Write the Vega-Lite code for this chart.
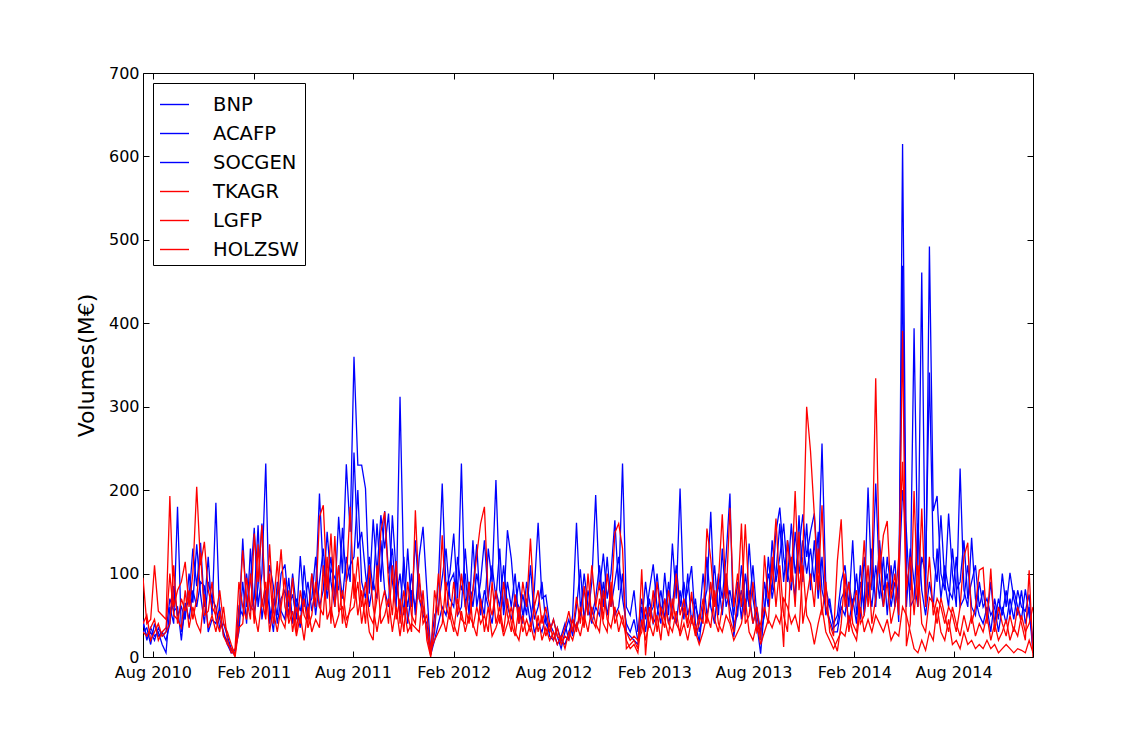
{
  "$schema": "https://vega.github.io/schema/vega-lite/v6.json",
  "width": 890,
  "height": 584,
  "autosize": {"type": "none"},
  "padding": {"left": 143, "top": 73, "right": 114, "bottom": 74},
  "background": "white",
  "config": {
    "view": {"stroke": "black", "strokeWidth": 1},
    "font": "DejaVu Sans",
    "axis": {"grid": false, "domain": false, "labelColor": "black", "tickColor": "black", "labelFontSize": 16, "labelFont": "DejaVu Sans", "titleFont": "DejaVu Sans", "titleColor": "black"}
  },
  "data": {
    "values": [
      {"d":"2010-07-14","BNP":45,"ACAFP":30,"SOCGEN":40,"TKAGR":95,"LGFP":40,"HOLZSW":30},
      {"d":"2010-07-21","BNP":20,"ACAFP":35,"SOCGEN":25,"TKAGR":40,"LGFP":50,"HOLZSW":25},
      {"d":"2010-07-28","BNP":35,"ACAFP":15,"SOCGEN":30,"TKAGR":45,"LGFP":20,"HOLZSW":35},
      {"d":"2010-08-04","BNP":25,"ACAFP":40,"SOCGEN":20,"TKAGR":110,"LGFP":30,"HOLZSW":45},
      {"d":"2010-08-11","BNP":30,"ACAFP":25,"SOCGEN":35,"TKAGR":55,"LGFP":40,"HOLZSW":20},
      {"d":"2010-08-18","BNP":15,"ACAFP":30,"SOCGEN":25,"TKAGR":50,"LGFP":25,"HOLZSW":30},
      {"d":"2010-08-25","BNP":5,"ACAFP":20,"SOCGEN":30,"TKAGR":45,"LGFP":30,"HOLZSW":35},
      {"d":"2010-09-01","BNP":60,"ACAFP":40,"SOCGEN":70,"TKAGR":193,"LGFP":40,"HOLZSW":100},
      {"d":"2010-09-08","BNP":40,"ACAFP":85,"SOCGEN":55,"TKAGR":60,"LGFP":110,"HOLZSW":50},
      {"d":"2010-09-15","BNP":180,"ACAFP":50,"SOCGEN":60,"TKAGR":80,"LGFP":40,"HOLZSW":45},
      {"d":"2010-09-22","BNP":30,"ACAFP":60,"SOCGEN":20,"TKAGR":90,"LGFP":70,"HOLZSW":35},
      {"d":"2010-09-29","BNP":55,"ACAFP":45,"SOCGEN":65,"TKAGR":114,"LGFP":55,"HOLZSW":80},
      {"d":"2010-10-06","BNP":70,"ACAFP":100,"SOCGEN":45,"TKAGR":60,"LGFP":80,"HOLZSW":35},
      {"d":"2010-10-13","BNP":130,"ACAFP":65,"SOCGEN":80,"TKAGR":100,"LGFP":45,"HOLZSW":60},
      {"d":"2010-10-20","BNP":85,"ACAFP":135,"SOCGEN":60,"TKAGR":204,"LGFP":70,"HOLZSW":40},
      {"d":"2010-10-27","BNP":137,"ACAFP":75,"SOCGEN":90,"TKAGR":110,"LGFP":125,"HOLZSW":30},
      {"d":"2010-11-03","BNP":60,"ACAFP":40,"SOCGEN":85,"TKAGR":138,"LGFP":50,"HOLZSW":75},
      {"d":"2010-11-10","BNP":120,"ACAFP":90,"SOCGEN":30,"TKAGR":80,"LGFP":55,"HOLZSW":35},
      {"d":"2010-11-17","BNP":50,"ACAFP":70,"SOCGEN":45,"TKAGR":60,"LGFP":90,"HOLZSW":50},
      {"d":"2010-11-24","BNP":185,"ACAFP":60,"SOCGEN":40,"TKAGR":50,"LGFP":45,"HOLZSW":30},
      {"d":"2010-12-01","BNP":45,"ACAFP":35,"SOCGEN":60,"TKAGR":80,"LGFP":30,"HOLZSW":55},
      {"d":"2010-12-08","BNP":30,"ACAFP":40,"SOCGEN":25,"TKAGR":40,"LGFP":60,"HOLZSW":25},
      {"d":"2010-12-15","BNP":15,"ACAFP":25,"SOCGEN":20,"TKAGR":30,"LGFP":20,"HOLZSW":15},
      {"d":"2010-12-22","BNP":5,"ACAFP":10,"SOCGEN":8,"TKAGR":15,"LGFP":5,"HOLZSW":10},
      {"d":"2010-12-29","BNP":5,"ACAFP":3,"SOCGEN":8,"TKAGR":2,"LGFP":10,"HOLZSW":0},
      {"d":"2011-01-05","BNP":40,"ACAFP":60,"SOCGEN":30,"TKAGR":50,"LGFP":90,"HOLZSW":35},
      {"d":"2011-01-12","BNP":142,"ACAFP":50,"SOCGEN":90,"TKAGR":128,"LGFP":60,"HOLZSW":40},
      {"d":"2011-01-19","BNP":60,"ACAFP":100,"SOCGEN":40,"TKAGR":70,"LGFP":45,"HOLZSW":95},
      {"d":"2011-01-26","BNP":90,"ACAFP":55,"SOCGEN":130,"TKAGR":45,"LGFP":100,"HOLZSW":60},
      {"d":"2011-02-02","BNP":155,"ACAFP":70,"SOCGEN":50,"TKAGR":148,"LGFP":40,"HOLZSW":55},
      {"d":"2011-02-09","BNP":60,"ACAFP":158,"SOCGEN":85,"TKAGR":90,"LGFP":135,"HOLZSW":30},
      {"d":"2011-02-16","BNP":100,"ACAFP":45,"SOCGEN":160,"TKAGR":158,"LGFP":60,"HOLZSW":70},
      {"d":"2011-02-23","BNP":232,"ACAFP":80,"SOCGEN":55,"TKAGR":50,"LGFP":90,"HOLZSW":45},
      {"d":"2011-03-02","BNP":40,"ACAFP":60,"SOCGEN":110,"TKAGR":100,"LGFP":30,"HOLZSW":135},
      {"d":"2011-03-09","BNP":70,"ACAFP":30,"SOCGEN":85,"TKAGR":40,"LGFP":60,"HOLZSW":55},
      {"d":"2011-03-16","BNP":50,"ACAFP":90,"SOCGEN":40,"TKAGR":75,"LGFP":115,"HOLZSW":30},
      {"d":"2011-03-23","BNP":100,"ACAFP":55,"SOCGEN":70,"TKAGR":129,"LGFP":45,"HOLZSW":60},
      {"d":"2011-03-30","BNP":111,"ACAFP":45,"SOCGEN":80,"TKAGR":60,"LGFP":35,"HOLZSW":95},
      {"d":"2011-04-06","BNP":60,"ACAFP":95,"SOCGEN":50,"TKAGR":45,"LGFP":80,"HOLZSW":40},
      {"d":"2011-04-13","BNP":75,"ACAFP":40,"SOCGEN":100,"TKAGR":95,"LGFP":30,"HOLZSW":55},
      {"d":"2011-04-20","BNP":45,"ACAFP":70,"SOCGEN":60,"TKAGR":30,"LGFP":60,"HOLZSW":25},
      {"d":"2011-04-27","BNP":121,"ACAFP":55,"SOCGEN":35,"TKAGR":80,"LGFP":40,"HOLZSW":50},
      {"d":"2011-05-04","BNP":60,"ACAFP":80,"SOCGEN":110,"TKAGR":50,"LGFP":70,"HOLZSW":20},
      {"d":"2011-05-11","BNP":90,"ACAFP":45,"SOCGEN":60,"TKAGR":40,"LGFP":35,"HOLZSW":60},
      {"d":"2011-05-18","BNP":55,"ACAFP":100,"SOCGEN":70,"TKAGR":100,"LGFP":50,"HOLZSW":30},
      {"d":"2011-05-25","BNP":80,"ACAFP":50,"SOCGEN":120,"TKAGR":60,"LGFP":90,"HOLZSW":45},
      {"d":"2011-06-01","BNP":196,"ACAFP":90,"SOCGEN":60,"TKAGR":168,"LGFP":60,"HOLZSW":35},
      {"d":"2011-06-08","BNP":100,"ACAFP":130,"SOCGEN":80,"TKAGR":182,"LGFP":50,"HOLZSW":110},
      {"d":"2011-06-15","BNP":90,"ACAFP":70,"SOCGEN":150,"TKAGR":80,"LGFP":120,"HOLZSW":45},
      {"d":"2011-06-22","BNP":120,"ACAFP":105,"SOCGEN":90,"TKAGR":148,"LGFP":40,"HOLZSW":60},
      {"d":"2011-06-29","BNP":70,"ACAFP":95,"SOCGEN":60,"TKAGR":60,"LGFP":145,"HOLZSW":35},
      {"d":"2011-07-06","BNP":168,"ACAFP":80,"SOCGEN":110,"TKAGR":110,"LGFP":55,"HOLZSW":50},
      {"d":"2011-07-13","BNP":100,"ACAFP":155,"SOCGEN":70,"TKAGR":40,"LGFP":60,"HOLZSW":80},
      {"d":"2011-07-20","BNP":231,"ACAFP":90,"SOCGEN":120,"TKAGR":90,"LGFP":35,"HOLZSW":45},
      {"d":"2011-07-27","BNP":150,"ACAFP":110,"SOCGEN":90,"TKAGR":180,"LGFP":60,"HOLZSW":55},
      {"d":"2011-08-03","BNP":360,"ACAFP":120,"SOCGEN":245,"TKAGR":70,"LGFP":100,"HOLZSW":60},
      {"d":"2011-08-10","BNP":230,"ACAFP":200,"SOCGEN":130,"TKAGR":120,"LGFP":50,"HOLZSW":90},
      {"d":"2011-08-17","BNP":230,"ACAFP":90,"SOCGEN":150,"TKAGR":60,"LGFP":80,"HOLZSW":40},
      {"d":"2011-08-24","BNP":202,"ACAFP":70,"SOCGEN":100,"TKAGR":90,"LGFP":40,"HOLZSW":70},
      {"d":"2011-08-31","BNP":76,"ACAFP":120,"SOCGEN":60,"TKAGR":50,"LGFP":110,"HOLZSW":30},
      {"d":"2011-09-07","BNP":165,"ACAFP":80,"SOCGEN":90,"TKAGR":40,"LGFP":60,"HOLZSW":20},
      {"d":"2011-09-14","BNP":100,"ACAFP":160,"SOCGEN":70,"TKAGR":70,"LGFP":30,"HOLZSW":110},
      {"d":"2011-09-21","BNP":170,"ACAFP":90,"SOCGEN":140,"TKAGR":150,"LGFP":60,"HOLZSW":40},
      {"d":"2011-09-28","BNP":130,"ACAFP":175,"SOCGEN":80,"TKAGR":174,"LGFP":80,"HOLZSW":50},
      {"d":"2011-10-05","BNP":172,"ACAFP":100,"SOCGEN":60,"TKAGR":90,"LGFP":40,"HOLZSW":70},
      {"d":"2011-10-12","BNP":90,"ACAFP":130,"SOCGEN":170,"TKAGR":50,"LGFP":110,"HOLZSW":30},
      {"d":"2011-10-19","BNP":60,"ACAFP":70,"SOCGEN":100,"TKAGR":115,"LGFP":45,"HOLZSW":60},
      {"d":"2011-10-26","BNP":312,"ACAFP":100,"SOCGEN":50,"TKAGR":40,"LGFP":70,"HOLZSW":25},
      {"d":"2011-11-02","BNP":90,"ACAFP":50,"SOCGEN":120,"TKAGR":80,"LGFP":30,"HOLZSW":60},
      {"d":"2011-11-09","BNP":60,"ACAFP":130,"SOCGEN":40,"TKAGR":50,"LGFP":90,"HOLZSW":30},
      {"d":"2011-11-16","BNP":100,"ACAFP":60,"SOCGEN":80,"TKAGR":30,"LGFP":50,"HOLZSW":40},
      {"d":"2011-11-23","BNP":50,"ACAFP":140,"SOCGEN":60,"TKAGR":176,"LGFP":40,"HOLZSW":35},
      {"d":"2011-11-30","BNP":120,"ACAFP":70,"SOCGEN":90,"TKAGR":70,"LGFP":100,"HOLZSW":30},
      {"d":"2011-12-07","BNP":156,"ACAFP":50,"SOCGEN":60,"TKAGR":60,"LGFP":40,"HOLZSW":80},
      {"d":"2011-12-14","BNP":80,"ACAFP":40,"SOCGEN":30,"TKAGR":30,"LGFP":50,"HOLZSW":20},
      {"d":"2011-12-21","BNP":5,"ACAFP":10,"SOCGEN":3,"TKAGR":2,"LGFP":8,"HOLZSW":0},
      {"d":"2011-12-28","BNP":30,"ACAFP":50,"SOCGEN":20,"TKAGR":80,"LGFP":20,"HOLZSW":35},
      {"d":"2012-01-04","BNP":90,"ACAFP":60,"SOCGEN":40,"TKAGR":50,"LGFP":30,"HOLZSW":100},
      {"d":"2012-01-11","BNP":208,"ACAFP":95,"SOCGEN":60,"TKAGR":146,"LGFP":40,"HOLZSW":50},
      {"d":"2012-01-18","BNP":80,"ACAFP":130,"SOCGEN":50,"TKAGR":60,"LGFP":90,"HOLZSW":30},
      {"d":"2012-01-25","BNP":100,"ACAFP":70,"SOCGEN":90,"TKAGR":45,"LGFP":50,"HOLZSW":60},
      {"d":"2012-02-01","BNP":148,"ACAFP":60,"SOCGEN":100,"TKAGR":90,"LGFP":30,"HOLZSW":40},
      {"d":"2012-02-08","BNP":70,"ACAFP":120,"SOCGEN":50,"TKAGR":50,"LGFP":70,"HOLZSW":25},
      {"d":"2012-02-15","BNP":232,"ACAFP":80,"SOCGEN":60,"TKAGR":100,"LGFP":45,"HOLZSW":55},
      {"d":"2012-02-22","BNP":60,"ACAFP":100,"SOCGEN":130,"TKAGR":60,"LGFP":40,"HOLZSW":30},
      {"d":"2012-02-29","BNP":90,"ACAFP":50,"SOCGEN":70,"TKAGR":40,"LGFP":90,"HOLZSW":50},
      {"d":"2012-03-07","BNP":60,"ACAFP":140,"SOCGEN":80,"TKAGR":80,"LGFP":35,"HOLZSW":40},
      {"d":"2012-03-14","BNP":100,"ACAFP":60,"SOCGEN":135,"TKAGR":122,"LGFP":60,"HOLZSW":25},
      {"d":"2012-03-21","BNP":70,"ACAFP":90,"SOCGEN":50,"TKAGR":160,"LGFP":40,"HOLZSW":70},
      {"d":"2012-03-28","BNP":50,"ACAFP":140,"SOCGEN":80,"TKAGR":180,"LGFP":50,"HOLZSW":30},
      {"d":"2012-04-04","BNP":130,"ACAFP":70,"SOCGEN":60,"TKAGR":70,"LGFP":30,"HOLZSW":60},
      {"d":"2012-04-11","BNP":90,"ACAFP":110,"SOCGEN":40,"TKAGR":50,"LGFP":90,"HOLZSW":25},
      {"d":"2012-04-18","BNP":212,"ACAFP":70,"SOCGEN":80,"TKAGR":80,"LGFP":40,"HOLZSW":35},
      {"d":"2012-04-25","BNP":80,"ACAFP":130,"SOCGEN":60,"TKAGR":40,"LGFP":60,"HOLZSW":50},
      {"d":"2012-05-02","BNP":60,"ACAFP":50,"SOCGEN":110,"TKAGR":90,"LGFP":30,"HOLZSW":25},
      {"d":"2012-05-09","BNP":152,"ACAFP":90,"SOCGEN":60,"TKAGR":50,"LGFP":70,"HOLZSW":40},
      {"d":"2012-05-16","BNP":118,"ACAFP":60,"SOCGEN":45,"TKAGR":30,"LGFP":40,"HOLZSW":60},
      {"d":"2012-05-23","BNP":60,"ACAFP":100,"SOCGEN":70,"TKAGR":75,"LGFP":25,"HOLZSW":30},
      {"d":"2012-05-30","BNP":90,"ACAFP":40,"SOCGEN":60,"TKAGR":40,"LGFP":60,"HOLZSW":20},
      {"d":"2012-06-06","BNP":50,"ACAFP":75,"SOCGEN":40,"TKAGR":90,"LGFP":30,"HOLZSW":50},
      {"d":"2012-06-13","BNP":70,"ACAFP":50,"SOCGEN":90,"TKAGR":60,"LGFP":45,"HOLZSW":25},
      {"d":"2012-06-20","BNP":40,"ACAFP":110,"SOCGEN":60,"TKAGR":142,"LGFP":30,"HOLZSW":40},
      {"d":"2012-06-27","BNP":80,"ACAFP":45,"SOCGEN":30,"TKAGR":60,"LGFP":60,"HOLZSW":20},
      {"d":"2012-07-04","BNP":161,"ACAFP":60,"SOCGEN":40,"TKAGR":80,"LGFP":30,"HOLZSW":50},
      {"d":"2012-07-11","BNP":70,"ACAFP":90,"SOCGEN":30,"TKAGR":40,"LGFP":50,"HOLZSW":20},
      {"d":"2012-07-18","BNP":74,"ACAFP":40,"SOCGEN":50,"TKAGR":60,"LGFP":25,"HOLZSW":35},
      {"d":"2012-07-25","BNP":40,"ACAFP":30,"SOCGEN":25,"TKAGR":30,"LGFP":40,"HOLZSW":20},
      {"d":"2012-08-01","BNP":30,"ACAFP":45,"SOCGEN":20,"TKAGR":45,"LGFP":20,"HOLZSW":30},
      {"d":"2012-08-08","BNP":15,"ACAFP":25,"SOCGEN":35,"TKAGR":25,"LGFP":35,"HOLZSW":15},
      {"d":"2012-08-15","BNP":25,"ACAFP":10,"SOCGEN":20,"TKAGR":20,"LGFP":15,"HOLZSW":25},
      {"d":"2012-08-22","BNP":40,"ACAFP":30,"SOCGEN":15,"TKAGR":35,"LGFP":25,"HOLZSW":10},
      {"d":"2012-08-29","BNP":20,"ACAFP":45,"SOCGEN":30,"TKAGR":55,"LGFP":20,"HOLZSW":30},
      {"d":"2012-09-05","BNP":50,"ACAFP":25,"SOCGEN":45,"TKAGR":30,"LGFP":45,"HOLZSW":20},
      {"d":"2012-09-12","BNP":161,"ACAFP":60,"SOCGEN":35,"TKAGR":72,"LGFP":30,"HOLZSW":40},
      {"d":"2012-09-19","BNP":60,"ACAFP":105,"SOCGEN":50,"TKAGR":40,"LGFP":60,"HOLZSW":25},
      {"d":"2012-09-26","BNP":80,"ACAFP":45,"SOCGEN":100,"TKAGR":85,"LGFP":35,"HOLZSW":50},
      {"d":"2012-10-03","BNP":50,"ACAFP":80,"SOCGEN":60,"TKAGR":50,"LGFP":100,"HOLZSW":30},
      {"d":"2012-10-10","BNP":90,"ACAFP":50,"SOCGEN":40,"TKAGR":110,"LGFP":45,"HOLZSW":60},
      {"d":"2012-10-17","BNP":194,"ACAFP":70,"SOCGEN":60,"TKAGR":60,"LGFP":35,"HOLZSW":40},
      {"d":"2012-10-24","BNP":80,"ACAFP":110,"SOCGEN":50,"TKAGR":90,"LGFP":70,"HOLZSW":30},
      {"d":"2012-10-31","BNP":124,"ACAFP":60,"SOCGEN":90,"TKAGR":45,"LGFP":40,"HOLZSW":80},
      {"d":"2012-11-07","BNP":70,"ACAFP":120,"SOCGEN":50,"TKAGR":100,"LGFP":30,"HOLZSW":45},
      {"d":"2012-11-14","BNP":100,"ACAFP":60,"SOCGEN":80,"TKAGR":60,"LGFP":90,"HOLZSW":35},
      {"d":"2012-11-21","BNP":164,"ACAFP":90,"SOCGEN":50,"TKAGR":149,"LGFP":40,"HOLZSW":60},
      {"d":"2012-11-28","BNP":80,"ACAFP":120,"SOCGEN":60,"TKAGR":160,"LGFP":55,"HOLZSW":30},
      {"d":"2012-12-05","BNP":232,"ACAFP":70,"SOCGEN":100,"TKAGR":130,"LGFP":40,"HOLZSW":50},
      {"d":"2012-12-12","BNP":60,"ACAFP":40,"SOCGEN":30,"TKAGR":10,"LGFP":30,"HOLZSW":20},
      {"d":"2012-12-19","BNP":50,"ACAFP":30,"SOCGEN":25,"TKAGR":15,"LGFP":20,"HOLZSW":10},
      {"d":"2012-12-26","BNP":80,"ACAFP":45,"SOCGEN":20,"TKAGR":20,"LGFP":25,"HOLZSW":15},
      {"d":"2013-01-02","BNP":30,"ACAFP":20,"SOCGEN":15,"TKAGR":10,"LGFP":20,"HOLZSW":5},
      {"d":"2013-01-09","BNP":70,"ACAFP":40,"SOCGEN":60,"TKAGR":105,"LGFP":30,"HOLZSW":45},
      {"d":"2013-01-16","BNP":45,"ACAFP":90,"SOCGEN":30,"TKAGR":2,"LGFP":60,"HOLZSW":20},
      {"d":"2013-01-23","BNP":80,"ACAFP":50,"SOCGEN":70,"TKAGR":60,"LGFP":35,"HOLZSW":40},
      {"d":"2013-01-30","BNP":111,"ACAFP":60,"SOCGEN":40,"TKAGR":40,"LGFP":80,"HOLZSW":25},
      {"d":"2013-02-06","BNP":60,"ACAFP":100,"SOCGEN":50,"TKAGR":90,"LGFP":30,"HOLZSW":50},
      {"d":"2013-02-13","BNP":40,"ACAFP":55,"SOCGEN":80,"TKAGR":50,"LGFP":60,"HOLZSW":20},
      {"d":"2013-02-20","BNP":101,"ACAFP":70,"SOCGEN":45,"TKAGR":35,"LGFP":45,"HOLZSW":70},
      {"d":"2013-02-27","BNP":50,"ACAFP":40,"SOCGEN":90,"TKAGR":80,"LGFP":25,"HOLZSW":40},
      {"d":"2013-03-06","BNP":136,"ACAFP":60,"SOCGEN":50,"TKAGR":45,"LGFP":70,"HOLZSW":30},
      {"d":"2013-03-13","BNP":70,"ACAFP":110,"SOCGEN":40,"TKAGR":100,"LGFP":40,"HOLZSW":55},
      {"d":"2013-03-20","BNP":202,"ACAFP":60,"SOCGEN":80,"TKAGR":50,"LGFP":30,"HOLZSW":25},
      {"d":"2013-03-27","BNP":60,"ACAFP":90,"SOCGEN":45,"TKAGR":70,"LGFP":60,"HOLZSW":40},
      {"d":"2013-04-03","BNP":80,"ACAFP":50,"SOCGEN":100,"TKAGR":40,"LGFP":35,"HOLZSW":20},
      {"d":"2013-04-10","BNP":109,"ACAFP":70,"SOCGEN":40,"TKAGR":78,"LGFP":50,"HOLZSW":45},
      {"d":"2013-04-17","BNP":40,"ACAFP":60,"SOCGEN":70,"TKAGR":30,"LGFP":25,"HOLZSW":30},
      {"d":"2013-04-24","BNP":18,"ACAFP":45,"SOCGEN":30,"TKAGR":50,"LGFP":40,"HOLZSW":15},
      {"d":"2013-05-01","BNP":60,"ACAFP":100,"SOCGEN":50,"TKAGR":40,"LGFP":70,"HOLZSW":30},
      {"d":"2013-05-08","BNP":80,"ACAFP":50,"SOCGEN":120,"TKAGR":154,"LGFP":40,"HOLZSW":50},
      {"d":"2013-05-15","BNP":174,"ACAFP":70,"SOCGEN":60,"TKAGR":118,"LGFP":90,"HOLZSW":35},
      {"d":"2013-05-22","BNP":60,"ACAFP":110,"SOCGEN":40,"TKAGR":60,"LGFP":45,"HOLZSW":80},
      {"d":"2013-05-29","BNP":100,"ACAFP":50,"SOCGEN":90,"TKAGR":90,"LGFP":30,"HOLZSW":40},
      {"d":"2013-06-05","BNP":70,"ACAFP":130,"SOCGEN":50,"TKAGR":171,"LGFP":60,"HOLZSW":30},
      {"d":"2013-06-12","BNP":120,"ACAFP":60,"SOCGEN":100,"TKAGR":70,"LGFP":100,"HOLZSW":50},
      {"d":"2013-06-19","BNP":196,"ACAFP":80,"SOCGEN":60,"TKAGR":179,"LGFP":45,"HOLZSW":40},
      {"d":"2013-06-26","BNP":24,"ACAFP":50,"SOCGEN":40,"TKAGR":60,"LGFP":30,"HOLZSW":20},
      {"d":"2013-07-03","BNP":60,"ACAFP":90,"SOCGEN":50,"TKAGR":100,"LGFP":70,"HOLZSW":30},
      {"d":"2013-07-10","BNP":80,"ACAFP":45,"SOCGEN":110,"TKAGR":60,"LGFP":160,"HOLZSW":40},
      {"d":"2013-07-17","BNP":50,"ACAFP":100,"SOCGEN":60,"TKAGR":159,"LGFP":40,"HOLZSW":70},
      {"d":"2013-07-24","BNP":136,"ACAFP":60,"SOCGEN":80,"TKAGR":70,"LGFP":50,"HOLZSW":30},
      {"d":"2013-07-31","BNP":70,"ACAFP":110,"SOCGEN":40,"TKAGR":40,"LGFP":90,"HOLZSW":20},
      {"d":"2013-08-07","BNP":40,"ACAFP":50,"SOCGEN":60,"TKAGR":60,"LGFP":30,"HOLZSW":40},
      {"d":"2013-08-14","BNP":4,"ACAFP":25,"SOCGEN":30,"TKAGR":20,"LGFP":40,"HOLZSW":15},
      {"d":"2013-08-21","BNP":60,"ACAFP":90,"SOCGEN":50,"TKAGR":122,"LGFP":60,"HOLZSW":30},
      {"d":"2013-08-28","BNP":100,"ACAFP":60,"SOCGEN":120,"TKAGR":70,"LGFP":40,"HOLZSW":45},
      {"d":"2013-09-04","BNP":80,"ACAFP":140,"SOCGEN":70,"TKAGR":100,"LGFP":120,"HOLZSW":35},
      {"d":"2013-09-11","BNP":150,"ACAFP":90,"SOCGEN":100,"TKAGR":166,"LGFP":60,"HOLZSW":50},
      {"d":"2013-09-18","BNP":179,"ACAFP":120,"SOCGEN":160,"TKAGR":80,"LGFP":110,"HOLZSW":40},
      {"d":"2013-09-25","BNP":120,"ACAFP":160,"SOCGEN":90,"TKAGR":12,"LGFP":50,"HOLZSW":70},
      {"d":"2013-10-02","BNP":90,"ACAFP":100,"SOCGEN":140,"TKAGR":140,"LGFP":30,"HOLZSW":60},
      {"d":"2013-10-09","BNP":160,"ACAFP":80,"SOCGEN":110,"TKAGR":90,"LGFP":120,"HOLZSW":40},
      {"d":"2013-10-16","BNP":100,"ACAFP":150,"SOCGEN":70,"TKAGR":199,"LGFP":60,"HOLZSW":50},
      {"d":"2013-10-23","BNP":130,"ACAFP":100,"SOCGEN":170,"TKAGR":80,"LGFP":150,"HOLZSW":30},
      {"d":"2013-10-30","BNP":171,"ACAFP":140,"SOCGEN":90,"TKAGR":120,"LGFP":40,"HOLZSW":110},
      {"d":"2013-11-06","BNP":120,"ACAFP":100,"SOCGEN":160,"TKAGR":300,"LGFP":70,"HOLZSW":50},
      {"d":"2013-11-13","BNP":150,"ACAFP":130,"SOCGEN":80,"TKAGR":247,"LGFP":100,"HOLZSW":40},
      {"d":"2013-11-20","BNP":172,"ACAFP":90,"SOCGEN":140,"TKAGR":170,"LGFP":60,"HOLZSW":15},
      {"d":"2013-11-27","BNP":100,"ACAFP":150,"SOCGEN":70,"TKAGR":80,"LGFP":130,"HOLZSW":40},
      {"d":"2013-12-04","BNP":256,"ACAFP":80,"SOCGEN":120,"TKAGR":182,"LGFP":50,"HOLZSW":60},
      {"d":"2013-12-11","BNP":83,"ACAFP":60,"SOCGEN":50,"TKAGR":60,"LGFP":90,"HOLZSW":30},
      {"d":"2013-12-18","BNP":60,"ACAFP":45,"SOCGEN":70,"TKAGR":40,"LGFP":30,"HOLZSW":20},
      {"d":"2013-12-25","BNP":40,"ACAFP":30,"SOCGEN":35,"TKAGR":25,"LGFP":20,"HOLZSW":10},
      {"d":"2014-01-01","BNP":50,"ACAFP":30,"SOCGEN":40,"TKAGR":115,"LGFP":7,"HOLZSW":20},
      {"d":"2014-01-08","BNP":90,"ACAFP":60,"SOCGEN":70,"TKAGR":165,"LGFP":40,"HOLZSW":30},
      {"d":"2014-01-15","BNP":110,"ACAFP":50,"SOCGEN":80,"TKAGR":60,"LGFP":100,"HOLZSW":25},
      {"d":"2014-01-22","BNP":60,"ACAFP":90,"SOCGEN":40,"TKAGR":90,"LGFP":30,"HOLZSW":50},
      {"d":"2014-01-29","BNP":140,"ACAFP":60,"SOCGEN":70,"TKAGR":40,"LGFP":60,"HOLZSW":30},
      {"d":"2014-02-05","BNP":50,"ACAFP":100,"SOCGEN":40,"TKAGR":30,"LGFP":80,"HOLZSW":20},
      {"d":"2014-02-12","BNP":90,"ACAFP":45,"SOCGEN":110,"TKAGR":70,"LGFP":40,"HOLZSW":60},
      {"d":"2014-02-19","BNP":60,"ACAFP":120,"SOCGEN":50,"TKAGR":140,"LGFP":50,"HOLZSW":30},
      {"d":"2014-02-26","BNP":203,"ACAFP":70,"SOCGEN":90,"TKAGR":60,"LGFP":110,"HOLZSW":45},
      {"d":"2014-03-05","BNP":80,"ACAFP":130,"SOCGEN":60,"TKAGR":100,"LGFP":40,"HOLZSW":30},
      {"d":"2014-03-12","BNP":208,"ACAFP":60,"SOCGEN":110,"TKAGR":334,"LGFP":70,"HOLZSW":50},
      {"d":"2014-03-19","BNP":90,"ACAFP":140,"SOCGEN":70,"TKAGR":100,"LGFP":130,"HOLZSW":40},
      {"d":"2014-03-26","BNP":60,"ACAFP":80,"SOCGEN":120,"TKAGR":146,"LGFP":60,"HOLZSW":30},
      {"d":"2014-04-02","BNP":120,"ACAFP":100,"SOCGEN":50,"TKAGR":163,"LGFP":90,"HOLZSW":45},
      {"d":"2014-04-09","BNP":80,"ACAFP":60,"SOCGEN":110,"TKAGR":70,"LGFP":40,"HOLZSW":20},
      {"d":"2014-04-16","BNP":116,"ACAFP":90,"SOCGEN":60,"TKAGR":100,"LGFP":60,"HOLZSW":30},
      {"d":"2014-04-23","BNP":42,"ACAFP":70,"SOCGEN":90,"TKAGR":50,"LGFP":120,"HOLZSW":25},
      {"d":"2014-04-30","BNP":615,"ACAFP":469,"SOCGEN":200,"TKAGR":391,"LGFP":234,"HOLZSW":60},
      {"d":"2014-05-07","BNP":100,"ACAFP":60,"SOCGEN":150,"TKAGR":13,"LGFP":80,"HOLZSW":50},
      {"d":"2014-05-14","BNP":80,"ACAFP":130,"SOCGEN":60,"TKAGR":40,"LGFP":120,"HOLZSW":30},
      {"d":"2014-05-21","BNP":394,"ACAFP":90,"SOCGEN":70,"TKAGR":199,"LGFP":50,"HOLZSW":10},
      {"d":"2014-05-28","BNP":100,"ACAFP":60,"SOCGEN":160,"TKAGR":60,"LGFP":110,"HOLZSW":5},
      {"d":"2014-06-04","BNP":461,"ACAFP":120,"SOCGEN":80,"TKAGR":178,"LGFP":40,"HOLZSW":20},
      {"d":"2014-06-11","BNP":60,"ACAFP":100,"SOCGEN":50,"TKAGR":60,"LGFP":30,"HOLZSW":8},
      {"d":"2014-06-18","BNP":492,"ACAFP":341,"SOCGEN":90,"TKAGR":120,"LGFP":71,"HOLZSW":30},
      {"d":"2014-06-25","BNP":175,"ACAFP":120,"SOCGEN":60,"TKAGR":50,"LGFP":65,"HOLZSW":20},
      {"d":"2014-07-02","BNP":193,"ACAFP":90,"SOCGEN":130,"TKAGR":70,"LGFP":40,"HOLZSW":60},
      {"d":"2014-07-09","BNP":100,"ACAFP":170,"SOCGEN":70,"TKAGR":60,"LGFP":71,"HOLZSW":30},
      {"d":"2014-07-16","BNP":80,"ACAFP":90,"SOCGEN":110,"TKAGR":40,"LGFP":50,"HOLZSW":20},
      {"d":"2014-07-23","BNP":172,"ACAFP":60,"SOCGEN":80,"TKAGR":60,"LGFP":30,"HOLZSW":45},
      {"d":"2014-07-30","BNP":100,"ACAFP":130,"SOCGEN":70,"TKAGR":50,"LGFP":60,"HOLZSW":15},
      {"d":"2014-08-06","BNP":60,"ACAFP":80,"SOCGEN":120,"TKAGR":30,"LGFP":40,"HOLZSW":20},
      {"d":"2014-08-13","BNP":226,"ACAFP":90,"SOCGEN":60,"TKAGR":60,"LGFP":25,"HOLZSW":10},
      {"d":"2014-08-20","BNP":80,"ACAFP":140,"SOCGEN":70,"TKAGR":120,"LGFP":50,"HOLZSW":30},
      {"d":"2014-08-27","BNP":60,"ACAFP":70,"SOCGEN":110,"TKAGR":137,"LGFP":30,"HOLZSW":15},
      {"d":"2014-09-03","BNP":143,"ACAFP":90,"SOCGEN":60,"TKAGR":40,"LGFP":50,"HOLZSW":20},
      {"d":"2014-09-10","BNP":70,"ACAFP":110,"SOCGEN":50,"TKAGR":60,"LGFP":25,"HOLZSW":10},
      {"d":"2014-09-17","BNP":50,"ACAFP":60,"SOCGEN":90,"TKAGR":104,"LGFP":40,"HOLZSW":15},
      {"d":"2014-09-24","BNP":40,"ACAFP":80,"SOCGEN":60,"TKAGR":107,"LGFP":30,"HOLZSW":10},
      {"d":"2014-10-01","BNP":60,"ACAFP":45,"SOCGEN":70,"TKAGR":40,"LGFP":50,"HOLZSW":20},
      {"d":"2014-10-08","BNP":30,"ACAFP":90,"SOCGEN":50,"TKAGR":106,"LGFP":20,"HOLZSW":10},
      {"d":"2014-10-15","BNP":70,"ACAFP":40,"SOCGEN":60,"TKAGR":30,"LGFP":40,"HOLZSW":15},
      {"d":"2014-10-22","BNP":45,"ACAFP":70,"SOCGEN":30,"TKAGR":60,"LGFP":20,"HOLZSW":5},
      {"d":"2014-10-29","BNP":100,"ACAFP":50,"SOCGEN":60,"TKAGR":40,"LGFP":30,"HOLZSW":10},
      {"d":"2014-11-05","BNP":60,"ACAFP":80,"SOCGEN":40,"TKAGR":25,"LGFP":45,"HOLZSW":15},
      {"d":"2014-11-12","BNP":101,"ACAFP":50,"SOCGEN":70,"TKAGR":50,"LGFP":20,"HOLZSW":10},
      {"d":"2014-11-19","BNP":70,"ACAFP":80,"SOCGEN":45,"TKAGR":30,"LGFP":35,"HOLZSW":5},
      {"d":"2014-11-26","BNP":50,"ACAFP":60,"SOCGEN":80,"TKAGR":60,"LGFP":25,"HOLZSW":10},
      {"d":"2014-12-03","BNP":80,"ACAFP":45,"SOCGEN":60,"TKAGR":40,"LGFP":50,"HOLZSW":8},
      {"d":"2014-12-10","BNP":40,"ACAFP":81,"SOCGEN":55,"TKAGR":20,"LGFP":30,"HOLZSW":5},
      {"d":"2014-12-17","BNP":60,"ACAFP":50,"SOCGEN":75,"TKAGR":104,"LGFP":40,"HOLZSW":20},
      {"d":"2014-12-24","BNP":5,"ACAFP":20,"SOCGEN":10,"TKAGR":0,"LGFP":60,"HOLZSW":5}
    ]
  },
  "transform": [
    {"fold": ["BNP", "ACAFP", "SOCGEN", "TKAGR", "LGFP", "HOLZSW"], "as": ["s", "v"]}
  ],
  "resolve": {"axis": {"x": "independent", "y": "independent"}},
  "layer": [
    {
      "mark": {"type": "line", "strokeWidth": 1.3, "clip": true},
      "encoding": {
        "x": {
          "field": "d", "type": "temporal",
          "scale": {"type": "utc", "domain": [{"year": 2010, "month": 7, "date": 14, "utc": true}, {"year": 2014, "month": 12, "date": 24, "utc": true}]},
          "axis": {
            "title": null, "format": "%b %Y", "tickSize": -6, "labelPadding": 13,
            "values": [
              {"year": 2010, "month": 8, "date": 1, "utc": true},
              {"year": 2011, "month": 2, "date": 1, "utc": true},
              {"year": 2011, "month": 8, "date": 1, "utc": true},
              {"year": 2012, "month": 2, "date": 1, "utc": true},
              {"year": 2012, "month": 8, "date": 1, "utc": true},
              {"year": 2013, "month": 2, "date": 1, "utc": true},
              {"year": 2013, "month": 8, "date": 1, "utc": true},
              {"year": 2014, "month": 2, "date": 1, "utc": true},
              {"year": 2014, "month": 8, "date": 1, "utc": true}
            ]
          }
        },
        "y": {
          "field": "v", "type": "quantitative",
          "scale": {"domain": [0, 700], "nice": false},
          "axis": {"title": "Volumes(M€)", "titleFontSize": 22, "titleFontWeight": "normal", "titlePadding": 10, "tickSize": -6, "labelPadding": 10, "values": [0, 100, 200, 300, 400, 500, 600, 700]}
        },
        "color": {
          "field": "s", "type": "nominal",
          "scale": {"domain": ["BNP", "ACAFP", "SOCGEN", "TKAGR", "LGFP", "HOLZSW"], "range": ["#0000ff", "#0000ff", "#0000ff", "#ff0000", "#ff0000", "#ff0000"]},
          "legend": {
            "title": null, "orient": "top-left", "offset": 10, "padding": 6,
            "strokeColor": "black", "fillColor": "white",
            "symbolType": "stroke", "symbolSize": 841, "symbolStrokeWidth": 1.4,
            "labelFontSize": 19.5, "labelFont": "DejaVu Sans", "labelColor": "black", "labelOffset": 23, "rowPadding": 4
          }
        }
      }
    },
    {
      "mark": {"type": "line", "strokeOpacity": 0},
      "encoding": {
        "x": {
          "field": "d", "type": "temporal",
          "axis": {
            "orient": "top", "title": null, "labels": false, "tickSize": -6,
            "values": [
              {"year": 2010, "month": 8, "date": 1, "utc": true},
              {"year": 2011, "month": 2, "date": 1, "utc": true},
              {"year": 2011, "month": 8, "date": 1, "utc": true},
              {"year": 2012, "month": 2, "date": 1, "utc": true},
              {"year": 2012, "month": 8, "date": 1, "utc": true},
              {"year": 2013, "month": 2, "date": 1, "utc": true},
              {"year": 2013, "month": 8, "date": 1, "utc": true},
              {"year": 2014, "month": 2, "date": 1, "utc": true},
              {"year": 2014, "month": 8, "date": 1, "utc": true}
            ]
          }
        },
        "y": {
          "field": "v", "type": "quantitative",
          "axis": {"orient": "right", "title": null, "labels": false, "tickSize": -6, "values": [0, 100, 200, 300, 400, 500, 600, 700]}
        },
        "detail": {"field": "s", "type": "nominal"}
      }
    }
  ]
}
